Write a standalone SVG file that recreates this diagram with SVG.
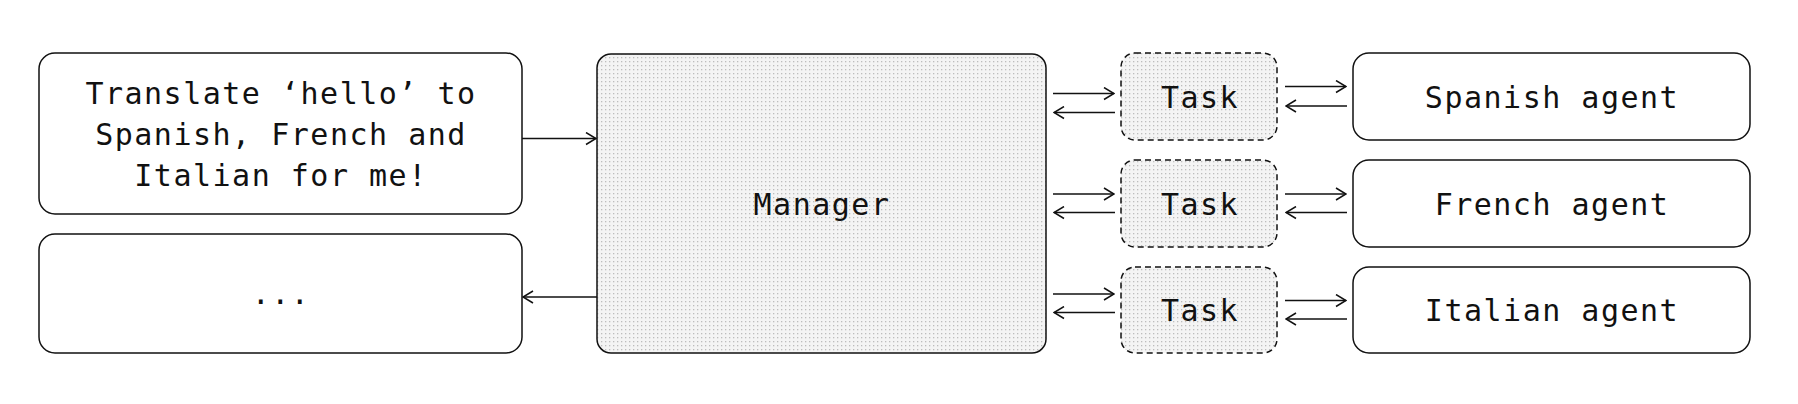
<svg xmlns="http://www.w3.org/2000/svg" width="1798" height="404" viewBox="0 0 1798 404">
<defs>
<pattern id="dots" width="4" height="4" patternUnits="userSpaceOnUse">
<rect width="4" height="4" fill="#f4f4f4"/>
<rect x="1" y="1" width="1.3" height="1.3" fill="#bdbdbd"/>
</pattern>
<marker id="ah" viewBox="0 0 12 14" refX="11" refY="7" markerWidth="12" markerHeight="14" markerUnits="userSpaceOnUse" orient="auto">
<path d="M1,1 L11,7 L1,13" fill="none" stroke="#111" stroke-width="1.5"/>
</marker>
<style>
.box{fill:#fff;stroke:#111;stroke-width:1.5}
.mgr{fill:url(#dots);stroke:#111;stroke-width:1.5}
.task{fill:url(#dots);stroke:#111;stroke-width:1.5;stroke-dasharray:6 4}
.t{font-family:"DejaVu Sans Mono","Liberation Mono",monospace;font-size:30px;letter-spacing:1.5px;fill:#111;text-anchor:middle}
.c{stroke:#111;stroke-width:1.5;fill:none;marker-end:url(#ah)}
</style>
</defs>
<g id="input">
<rect class="box" x="39" y="53" width="483" height="161" rx="16"/>
<text class="t" x="281" y="103.5">Translate ‘hello’ to</text>
<text class="t" x="281" y="144.5">Spanish, French and</text>
<text class="t" x="281" y="185.5">Italian for me!</text>
</g>
<g id="output">
<rect class="box" x="39" y="234" width="483" height="119" rx="16"/>
<text class="t" x="281" y="304">...</text>
</g>
<g id="manager">
<rect class="mgr" x="597" y="54" width="449" height="299" rx="14"/>
<text class="t" x="822" y="215">Manager</text>
</g>
<g id="task1">
<rect class="task" x="1121" y="53" width="156" height="87" rx="14"/>
<text class="t" x="1200" y="107.5">Task</text>
</g>
<g id="task2">
<rect class="task" x="1121" y="160" width="156" height="87" rx="14"/>
<text class="t" x="1200" y="214.5">Task</text>
</g>
<g id="task3">
<rect class="task" x="1121" y="267" width="156" height="86" rx="14"/>
<text class="t" x="1200" y="321">Task</text>
</g>
<g id="spanish">
<rect class="box" x="1353" y="53" width="397" height="87" rx="16"/>
<text class="t" x="1552" y="107.5">Spanish agent</text>
</g>
<g id="french">
<rect class="box" x="1353" y="160" width="397" height="87" rx="16"/>
<text class="t" x="1552" y="214.5">French agent</text>
</g>
<g id="italian">
<rect class="box" x="1353" y="267" width="397" height="86" rx="16"/>
<text class="t" x="1552" y="321">Italian agent</text>
</g>
<g id="connectors">
<line class="c" x1="522" y1="138.5" x2="596" y2="138.5"/>
<line class="c" x1="597" y1="297" x2="523" y2="297"/>
<line class="c" x1="1053" y1="93.5" x2="1114" y2="93.5"/>
<line class="c" x1="1115" y1="112.5" x2="1054" y2="112.5"/>
<line class="c" x1="1053" y1="194" x2="1114" y2="194"/>
<line class="c" x1="1115" y1="212.5" x2="1054" y2="212.5"/>
<line class="c" x1="1053" y1="294" x2="1114" y2="294"/>
<line class="c" x1="1115" y1="312.5" x2="1054" y2="312.5"/>
<line class="c" x1="1285" y1="86.5" x2="1346" y2="86.5"/>
<line class="c" x1="1347" y1="106" x2="1286" y2="106"/>
<line class="c" x1="1285" y1="194" x2="1346" y2="194"/>
<line class="c" x1="1347" y1="212.5" x2="1286" y2="212.5"/>
<line class="c" x1="1285" y1="300.5" x2="1346" y2="300.5"/>
<line class="c" x1="1347" y1="319" x2="1286" y2="319"/>
</g>
</svg>
